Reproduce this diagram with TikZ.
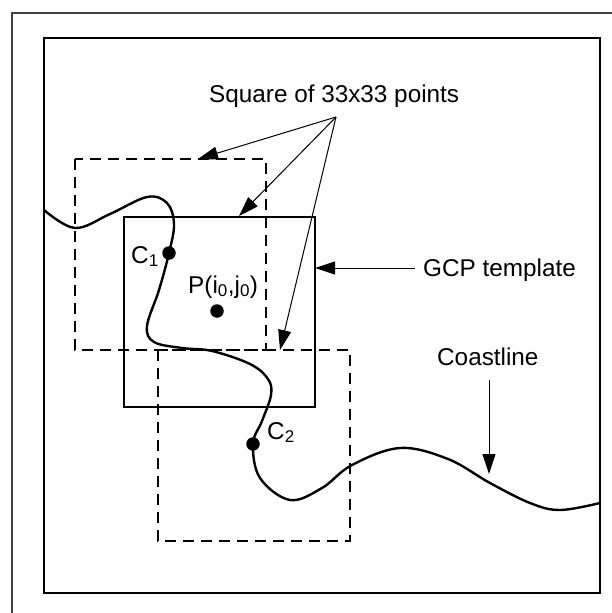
\documentclass[tikz,border=0pt]{standalone}
\usepackage{fontspec}
\setmainfont{Liberation Sans}
\usetikzlibrary{arrows.meta}
\begin{document}
\begin{tikzpicture}[x=1pt,y=-1pt,
  lbl/.style={inner sep=0pt, font=\fontsize{24.3}{29}\selectfont},
  frame/.style={line width=1.4pt},
  solidsq/.style={draw, line width=1.3pt, inner sep=0pt},
  dashsq/.style={draw, line width=1.3pt, dash pattern=on 11pt off 7pt, inner sep=0pt},
  coast/.style={line width=2.4pt, line join=round, line cap=round},
  pointer/.style={line width=1pt, -{Triangle[length=20pt,width=13pt]}},
  dot/.style={circle, fill=black, inner sep=0pt, minimum size=13.5pt}]
\useasboundingbox (0,0) rectangle (612,613);

% outer and inner frames
\draw[frame, black!75] (612,13) -- (12,13) -- (12,613);
\draw[line width=1.6pt] (44,38) rectangle (600,593);

% two 33x33 search squares and the GCP template
\draw[dashsq] (75,159) rectangle (266,350);
\draw[dashsq] (158,350) rectangle (350,541);
\draw[solidsq] (124,217) rectangle (315,407);

% coastline
\draw[coast] plot[smooth, tension=0.6] coordinates {
  (44,210) (75,228) (110,214) (147,197) (167,203) (174,224) (169,253)
  (159,290) (147,326) (154,342) (182,348) (212,351) (250,364)
  (268,379) (271,395) (262,421) (253,444) (260,478) (290,500)
  (322,488) (352,465) (400,448) (448,459) (490,483) (530,503)
  (560,510) (600,503)};

% points on the curve and the template centre
\node[dot] (c1) at (169,253) {};
\node[dot] (c2) at (253,444) {};
\node[dot] (p) at (217,311) {};
\node[lbl, anchor=base west] (c1l) at (131,263) {C\textsubscript{1}};
\node[lbl, anchor=base west] (c2l) at (267,439) {C\textsubscript{2}};
\node[lbl, anchor=base west] (pl) at (188,293) {P(i\textsubscript{0},j\textsubscript{0})};

% labels
\node[lbl, anchor=base west] (sq) at (209,102) {Square of 33x33 points};
\node[lbl, anchor=base west] (gcp) at (423,276) {GCP template};
\node[lbl, anchor=base west] (cst) at (437,365) {Coastline};

% pointer ends
\coordinate (apex) at (336,117);
\coordinate (t1) at (198,159);
\coordinate (t2) at (239,216);
\coordinate (t3) at (280,350);
\coordinate (gs) at (415,268);
\coordinate (ge) at (315,268);
\coordinate (cs) at (489,380);
\coordinate (ce) at (489,474);

\draw[pointer] (apex) -- (t1);
\draw[pointer] (apex) -- (t2);
\draw[pointer] (apex) -- (t3);
\draw[pointer] (gs) -- (ge);
\draw[pointer] (cs) -- (ce);
\end{tikzpicture}
\end{document}
